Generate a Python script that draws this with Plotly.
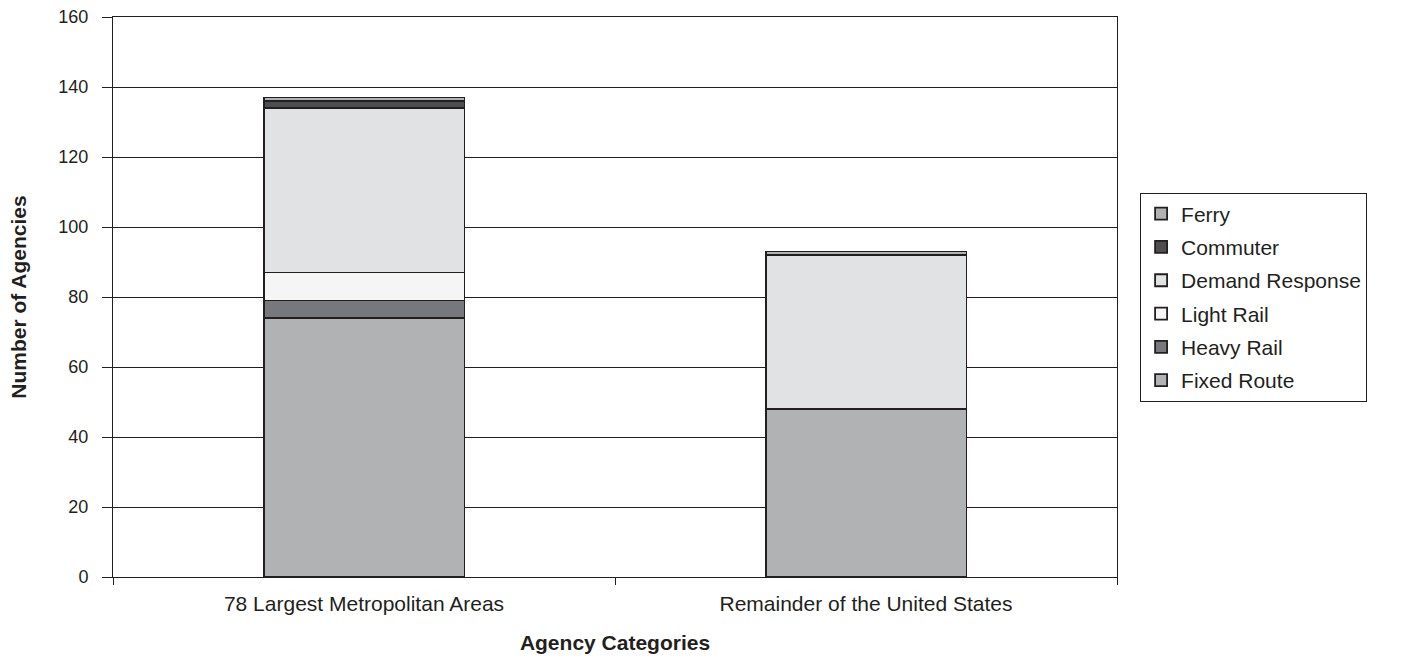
import plotly.graph_objects as go

categories = ["78 Largest Metropolitan Areas", "Remainder of the United States"]
fixed_route = [74, 48]
heavy_rail = [5, 0]
light_rail = [8, 0]
demand_response = [47, 44]
commuter = [2, 0]
ferry = [1, 1]

series = [
    ("Fixed Route", fixed_route, "#b1b2b4"),
    ("Heavy Rail", heavy_rail, "#77787b"),
    ("Light Rail", light_rail, "#f5f5f5"),
    ("Demand Response", demand_response, "#e1e2e4"),
    ("Commuter", commuter, "#4e4e50"),
    ("Ferry", ferry, "#b1b2b4"),
]

font_family = "Liberation Sans, Arial, sans-serif"
ink = "#231f20"

fig = go.Figure()
for i, (name, values, color) in enumerate(series):
    fig.add_trace(go.Bar(
        x=categories, y=values, name=name, legendgroup=name,
        legendrank=len(series) - i,  # top of the stack listed first
        marker=dict(color=color, line=dict(color=ink, width=1.8)),
    ))

fig.update_layout(
    barmode="stack",
    bargap=0.6,
    width=1416, height=656,
    margin=dict(l=113, r=299, t=17, b=79),
    paper_bgcolor="white", plot_bgcolor="white",
    font=dict(family=font_family, size=18, color=ink),
    showlegend=True,
    legend=dict(
        traceorder="grouped",
        x=1.023, xanchor="left", y=0.5, yanchor="middle",
        bordercolor=ink, borderwidth=1,
        font=dict(size=21, family=font_family, color=ink),
        tracegroupgap=3,
    ),
    xaxis=dict(
        title=dict(text="<b>Agency Categories</b>", font=dict(size=21), standoff=21),
        showline=True, linecolor=ink, linewidth=1, mirror=True,
        ticks="outside", tickson="boundaries", ticklen=7, tickcolor=ink,
        tickfont=dict(size=21),
        ticklabelstandoff=8,
        automargin=False,
    ),
    yaxis=dict(
        title=dict(text="<b>Number of Agencies</b>", font=dict(size=21), standoff=26),
        range=[0, 160], dtick=20,
        showgrid=True, gridcolor=ink, gridwidth=1,
        showline=True, linecolor=ink, linewidth=1, mirror=True,
        ticks="outside", ticklen=10, tickcolor=ink,
        tickfont=dict(size=18),
        ticklabelstandoff=10,
        zeroline=False,
        automargin=False,
    ),
)

fig.write_html("out.html")
